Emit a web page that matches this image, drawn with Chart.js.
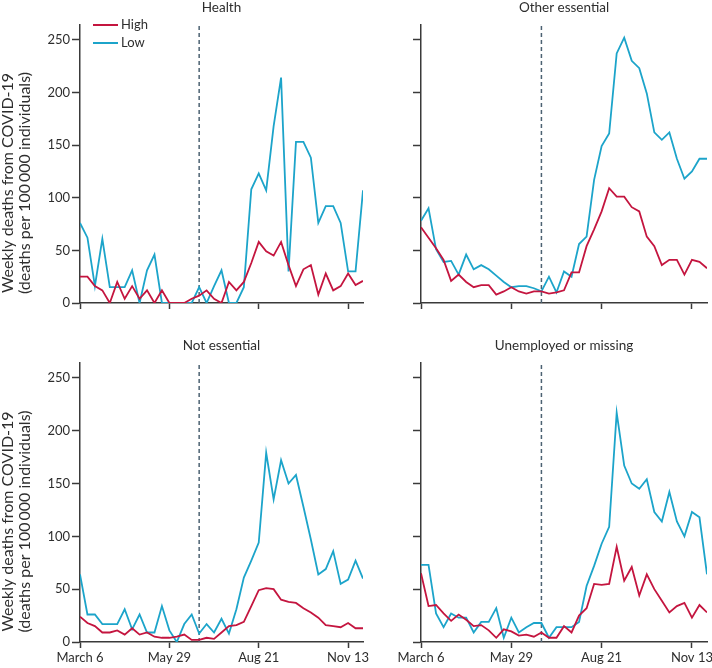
<!DOCTYPE html>
<html><head><meta charset="utf-8">
<script src="https://cdn.jsdelivr.net/npm/chart.js@4.4.1/dist/chart.umd.min.js"></script>
<style>
html,body{margin:0;padding:0;background:#fff;width:712px;height:668px;overflow:hidden}
canvas{position:absolute}
</style></head><body>
<canvas id="c0"></canvas><canvas id="c1"></canvas><canvas id="c2"></canvas><canvas id="c3"></canvas>
<script>
// ---- data (weekly, week 0 = March 6) ----
const tickWeeks = [0, 12, 24, 36];
const tickLabels = ['March 6', 'May 29', 'Aug 21', 'Nov 13'];
const policyWeek = 16;
const seriesNames = ['High', 'Low'];
const panelTitles = ['Health', 'Other essential', 'Not essential', 'Unemployed or missing'];
const yAxisTitle = ['Weekly deaths from COVID-19', '(deaths per 100\u2009000 individuals)'];

const healthHigh = [25,25,16,12,0,20,4,16,4,12,0,12,0,0,0,4,7,12,4,0,20,12,20,38,58,49,45,58,36,16,32,36,8,28,12,16,28,17,21];
const healthLow  = [76,62,16,61,15,15,15,31,0,31,46,0,0,0,0,0,15,0,16,31,0,0,15,108,123,107,168,214,30,153,153,138,76,92,92,76,30,30,107];
const otherHigh  = [72,62,52,41,21,27,20,15,17,17,8,11,15,11,9,11,11,9,10,12,29,29,54,70,87,109,101,101,91,87,63,54,36,41,41,27,41,39,33];
const otherLow   = [78,90,51,39,40,27,46,32,36,32,26,20,15,16,16,14,11,25,10,30,25,56,63,117,149,161,237,252,230,223,199,162,155,162,137,118,125,137,137];
const notEssHigh = [24,18,15,9,9,11,7,13,7,9,5,4,4,5,7,2,2,4,3,9,15,16,19,34,49,51,50,40,38,37,32,28,23,16,15,14,18,13,13];
const notEssLow  = [64,26,26,17,17,17,31,12,26,9,9,34,11,0,17,26,8,17,9,22,8,31,61,77,94,179,135,172,150,158,128,97,64,69,86,55,59,77,60];
const unempHigh  = [65,34,35,27,20,26,21,15,16,11,4,12,10,6,7,5,9,4,4,15,9,25,32,55,54,55,90,58,71,44,64,50,39,28,34,37,23,35,28];
const unempLow   = [73,73,27,14,27,23,23,9,19,19,32,4,23,9,14,18,18,4,14,14,14,19,53,72,93,109,217,167,150,145,154,123,114,142,114,100,123,118,64];

const panelData = [[healthHigh, healthLow],[otherHigh, otherLow],[notEssHigh, notEssLow],[unempHigh, unempLow]];

// ---- styling / layout ----
const COLORS = {high:'#c4153f', low:'#1ca4ca', dash:'#4c6272', axis:'#3a3a3a', text:'#2e2e2e'};
const Y_MAX = 264;
const layouts = [
  {left:0,   top:0,   w:370, h:330, yw:80, pt:25, pr:7, xh:27, yLab:true,  xLab:false, legend:true},
  {left:356, top:0,   w:356, h:330, yw:65, pt:25, pr:5, xh:27, yLab:false, xLab:false, legend:false},
  {left:0,   top:335, w:370, h:333, yw:80, pt:28, pr:7, xh:26, yLab:true,  xLab:true,  legend:false},
  {left:356, top:335, w:356, h:333, yw:65, pt:28, pr:5, xh:26, yLab:false, xLab:true,  legend:false}
];

Chart.defaults.font.family = 'Lato';
Chart.defaults.font.size = 13;
Chart.defaults.color = COLORS.text;

const panelDecor = {
  id: 'panelDecor',
  afterDraw(chart, args, opts) {
    const ctx = chart.ctx, a = chart.chartArea;
    ctx.save();
    ctx.fillStyle = COLORS.text;
    ctx.font = '13.5px Lato';
    ctx.textAlign = 'center';
    ctx.textBaseline = 'middle';
    ctx.fillText(opts.title, (a.left + a.right) / 2, a.top - 17);
    if (opts.yTitle) {
      const cy = (a.top + a.bottom) / 2 + 19;
      ctx.font = '16px Lato';
      ctx.textBaseline = 'alphabetic';
      ctx.translate(0, cy);
      ctx.rotate(-Math.PI / 2);
      ctx.fillText(opts.yTitle[0], 0, 13);
      ctx.fillText(opts.yTitle[1], 0, 30);
      ctx.setTransform(1,0,0,1,0,0);
    }
    if (opts.legend) {
      ctx.font = '13px Lato';
      ctx.textAlign = 'left';
      ctx.textBaseline = 'middle';
      chart.data.datasets.filter(d => d.inLegend).forEach((d, i) => {
        const y = a.top + i * 18;
        ctx.strokeStyle = d.borderColor; ctx.lineWidth = 2;
        ctx.beginPath(); ctx.moveTo(a.left + 13, y); ctx.lineTo(a.left + 38, y); ctx.stroke();
        ctx.fillStyle = COLORS.text;
        ctx.fillText(d.label, a.left + 41, y);
      });
    }
    ctx.restore();
  }
};

layouts.forEach((L, p) => {
  const cv = document.getElementById('c' + p);
  cv.width = L.w; cv.height = L.h;
  cv.style.left = L.left + 'px'; cv.style.top = L.top + 'px';
  const [hi, lo] = panelData[p];
  new Chart(cv, {
    type: 'line',
    data: {
      datasets: [
        {label: seriesNames[0], inLegend: true, data: hi.map((v, i) => ({x: i, y: v})), borderColor: COLORS.high, borderWidth: 1.8, pointRadius: 0, tension: 0, order: 1},
        {label: seriesNames[1], inLegend: true, data: lo.map((v, i) => ({x: i, y: v})), borderColor: COLORS.low, borderWidth: 1.8, pointRadius: 0, tension: 0, order: 2},
        {label: 'policy', inLegend: false, data: [{x: policyWeek, y: 0}, {x: policyWeek, y: Y_MAX}], borderColor: COLORS.dash, borderWidth: 1.5, borderDash: [4, 3], pointRadius: 0, order: 3}
      ]
    },
    options: {
      responsive: false, animation: false,
      layout: {padding: {left: 0, top: L.pt, right: L.pr, bottom: 0}},
      plugins: {
        legend: {display: false}, tooltip: {enabled: false}, title: {display: false},
        panelDecor: {title: panelTitles[p], yTitle: L.yLab ? yAxisTitle : null, legend: L.legend}
      },
      scales: {
        x: {
          type: 'linear', min: 0, max: hi.length - 1,
          afterBuildTicks: s => { s.ticks = tickWeeks.map(v => ({value: v})); },
          afterFit: s => { s.height = L.xh; s.paddingLeft = 0; s.paddingRight = 0; },
          ticks: {display: L.xLab, autoSkip: false, maxRotation: 0, padding: 2, color: COLORS.text,
                  callback: v => tickLabels[tickWeeks.indexOf(v)]},
          grid: {drawOnChartArea: false, drawTicks: true, tickLength: 6, tickColor: COLORS.axis, tickWidth: 1.5},
          border: {display: true, color: COLORS.axis, width: 1.5}
        },
        y: {
          min: 0, max: Y_MAX,
          ticks: {display: L.yLab, stepSize: 50, includeBounds: false, padding: 2, color: COLORS.text},
          afterFit: s => { s.width = L.yw; s.paddingTop = 0; s.paddingBottom = 0; },
          grid: {drawOnChartArea: false, drawTicks: true, tickLength: 8, tickColor: COLORS.axis, tickWidth: 1.5},
          border: {display: true, color: COLORS.axis, width: 1.5}
        }
      }
    },
    plugins: [panelDecor]
  });
});
</script>
</body></html>
